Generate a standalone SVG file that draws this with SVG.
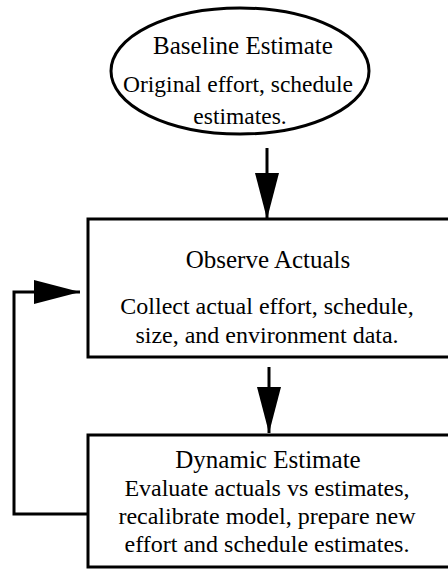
<svg xmlns="http://www.w3.org/2000/svg" width="448" height="570" viewBox="0 0 448 570">
<style>
.shape{fill:#fff;stroke:#000;stroke-width:3}
.h{font-family:"Liberation Serif","Times New Roman",serif;font-size:25px;text-anchor:middle;fill:#000}
.b{font-family:"Liberation Serif","Times New Roman",serif;font-size:23.5px;text-anchor:middle;fill:#000}
.bb{font-family:"Liberation Serif","Times New Roman",serif;font-size:24px;text-anchor:middle;fill:#000}
.c{fill:none;stroke:#000;stroke-width:3}
</style>
<defs>
<marker id="ah" markerUnits="userSpaceOnUse" markerWidth="48" markerHeight="26" refX="46" refY="12" orient="auto" viewBox="0 0 48 24">
<path d="M0,0 L46,12 L0,24 Z" fill="#000"/>
</marker>
</defs>
<rect width="448" height="570" fill="#fff"/>
<g id="baseline-estimate">
<ellipse class="shape" cx="240" cy="71" rx="129" ry="63"/>
<text class="h" x="243" y="54">Baseline Estimate</text>
<text class="b" x="238" y="92">Original effort, schedule</text>
<text class="b" x="240" y="124">estimates.</text>
</g>
<g id="observe-actuals">
<rect class="shape" x="88" y="219" width="380" height="138"/>
<text class="h" x="268" y="268">Observe Actuals</text>
<text class="bb" x="267" y="314">Collect actual effort, schedule,</text>
<text class="bb" x="267" y="343">size, and environment data.</text>
</g>
<g id="dynamic-estimate">
<rect class="shape" x="88" y="435" width="380" height="132"/>
<text class="h" x="268" y="468">Dynamic Estimate</text>
<text class="bb" x="267" y="496">Evaluate actuals vs estimates,</text>
<text class="bb" x="267" y="524">recalibrate model, prepare new</text>
<text class="bb" x="267" y="552">effort and schedule estimates.</text>
</g>
<g id="connectors">
<path class="c" d="M267,148 L267,219" marker-end="url(#ah)"/>
<path class="c" d="M269,367 L269,433" marker-end="url(#ah)"/>
<path class="c" d="M88,514 L14,514 L14,292 L80,292" marker-end="url(#ah)"/>
</g>
</svg>
